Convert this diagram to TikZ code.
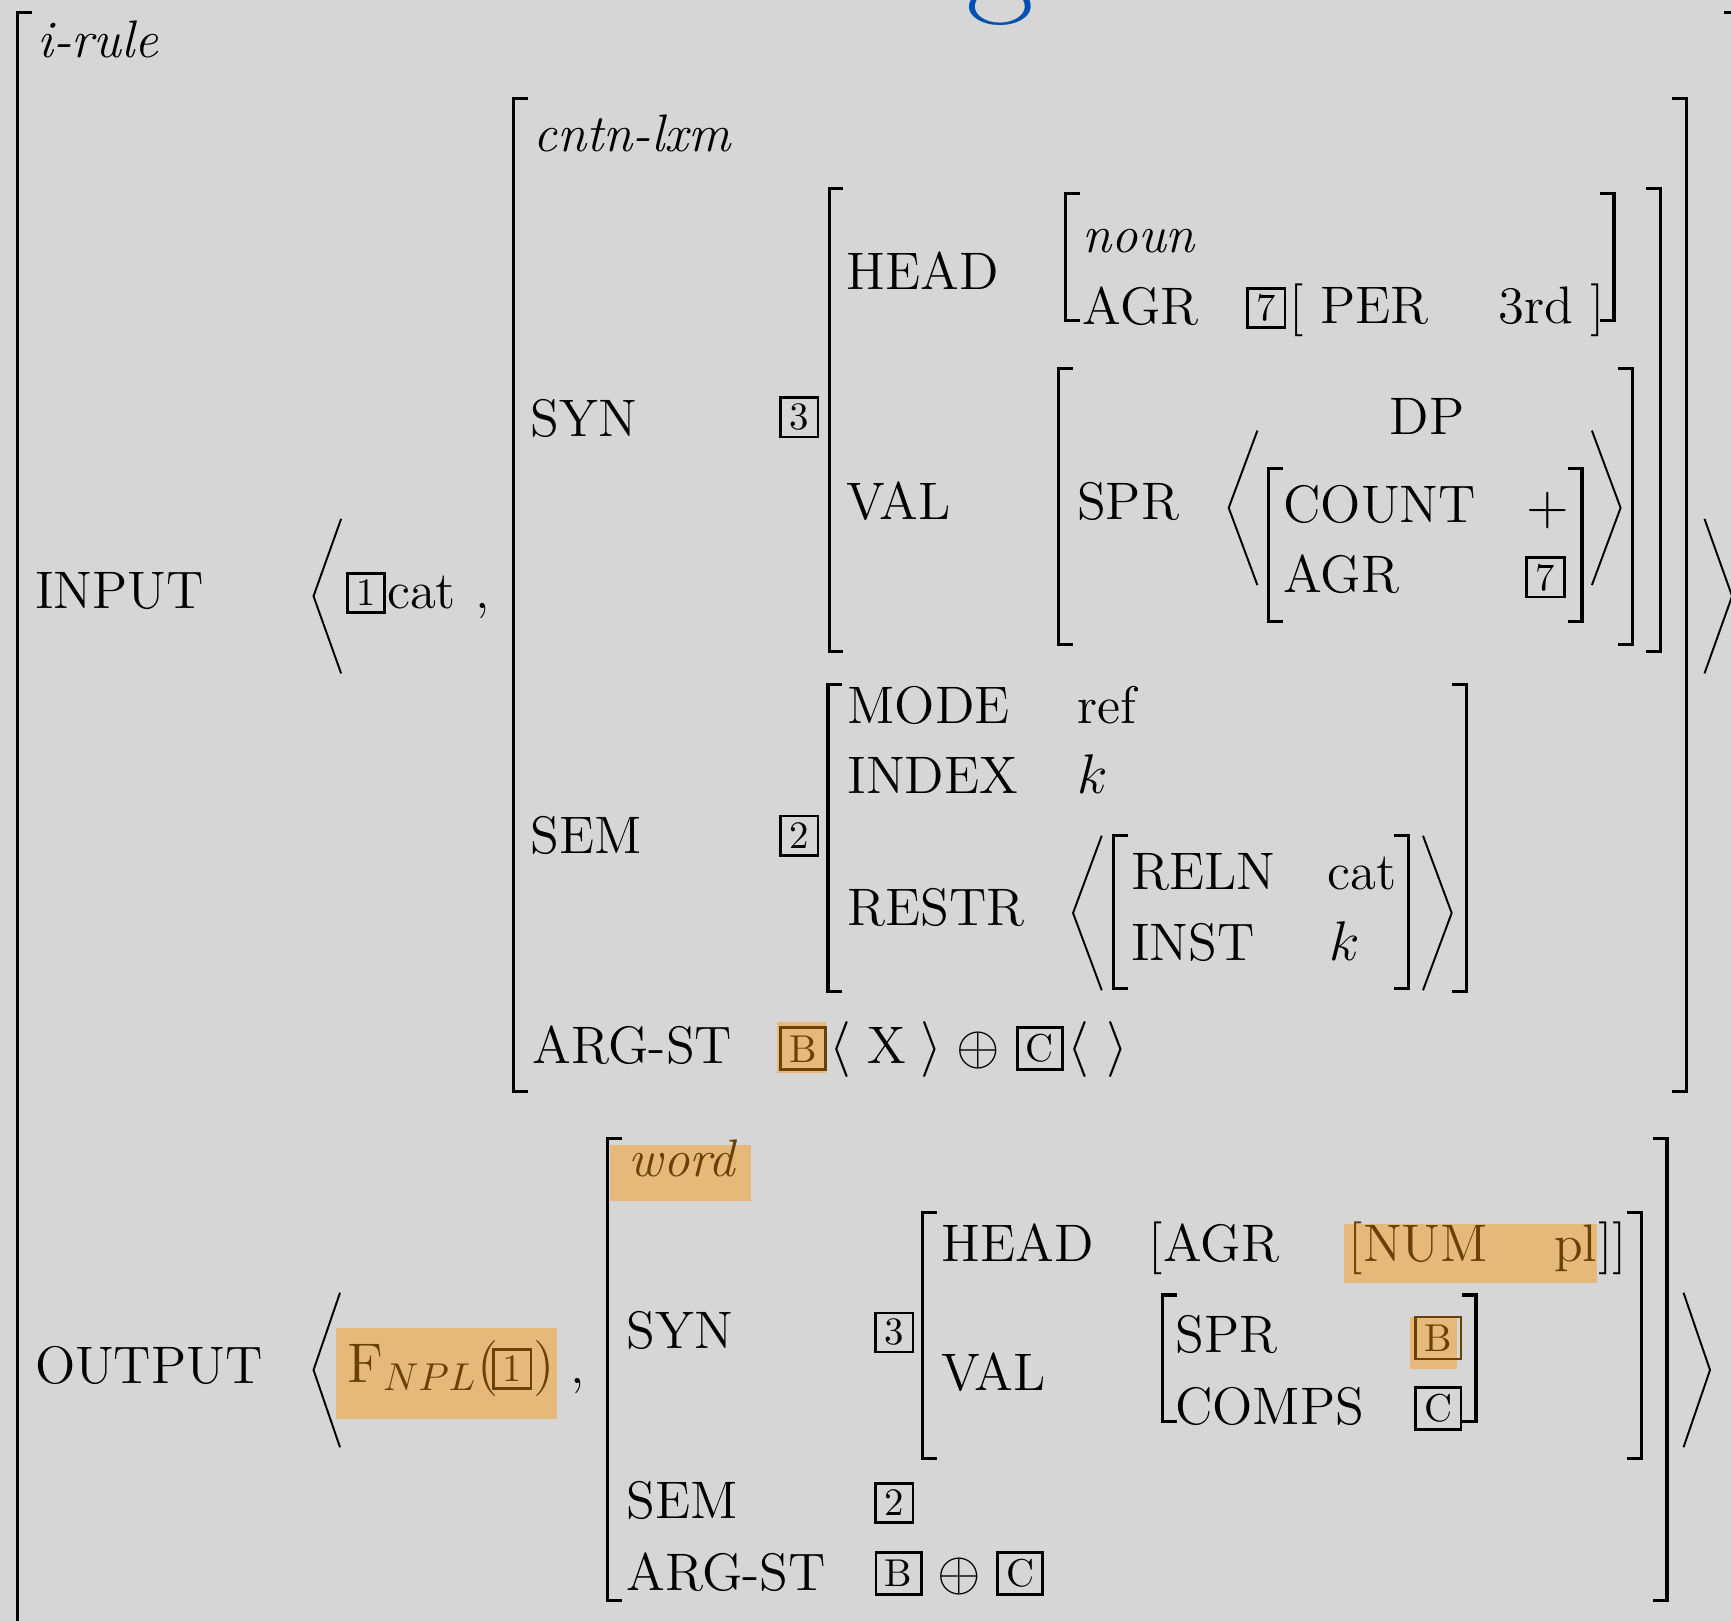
\documentclass[tikz,border=0pt]{standalone}
\usepackage{xcolor}
\usepackage{amsmath}
\usepackage{tikz}

\definecolor{slidebg}{RGB}{214,214,214}
\definecolor{hilite}{RGB}{230,185,122}
\definecolor{hltext}{RGB}{105,65,8}
\definecolor{titleblue}{RGB}{0,80,180}

% #1 left x, #2 right x, #3 top y, #4 bottom y
\newcommand{\avmbrk}[4]{%
  \draw[brk] (#1+13,#3) -- (#1,#3) -- (#1,#4) -- (#1+13,#4);
  \draw[brk] (#2-13,#3) -- (#2,#3) -- (#2,#4) -- (#2-13,#4);}
% #1 left tip x, #2 right tip x, #3 top y, #4 bottom y, #5 width
\newcommand{\avmangles}[5]{%
  \draw[ang] (#1+#5,#3) -- (#1,{(#3+#4)/2}) -- (#1+#5,#4);
  \draw[ang] (#2-#5,#3) -- (#2,{(#3+#4)/2}) -- (#2-#5,#4);}

\begin{document}
\begin{tikzpicture}[
  x=0.01cm, y=-0.01cm,
  font=\fontsize{13.6}{16}\selectfont,
  lbl/.style={anchor=base west, inner sep=0pt},
  hlbl/.style={lbl, text=hltext},
  tag/.style={draw, line width=0.7pt, inner sep=0pt, minimum width=0.34cm,
              minimum height=0.355cm, font=\fontsize{10}{10}\selectfont},
  ltag/.style={tag, minimum width=0.41cm, minimum height=0.38cm},
  htag/.style={ltag, draw=hltext, text=hltext},
  hl/.style={fill=hilite},
  brk/.style={line width=0.8pt},
  ang/.style={line width=0.5pt}
]
  \useasboundingbox (0,0) rectangle (1568,1468);
  \clip (0,0) rectangle (1568,1468);
  \fill[slidebg] (0,0) rectangle (1568,1468);
  \node[anchor=base, inner sep=0pt, text=titleblue, font=\fontsize{38}{38}\selectfont] (title) at (906,-4) {g};

  \fill[hl] (704,926) rectangle (748,972);
  \fill[hl] (304,1203) rectangle (505,1285);
  \fill[hl] (553,1037) rectangle (680,1088);
  \fill[hl] (1217,1109) rectangle (1447,1162);
  \fill[hl] (1277,1193) rectangle (1320,1240);

  % outer i-rule matrix
  \draw[brk] (29,11) -- (16,11) -- (16,1490);
  \draw[brk] (1562,11) -- (1575,11) -- (1575,1490);
  \node[lbl] (irule) at (33,52) {\itshape i-rule};

  % INPUT
  \node[lbl] (input) at (31,551) {INPUT};
  \avmangles{284}{1569}{470}{610}{25}
  \node[tag] (t1in) at (331.5,537) {1};
  \node[lbl] (cat) at (350,551) {cat};
  \node[lbl] (comma1) at (430,551) {,};

  \avmbrk{465}{1528}{89}{989}
  \node[lbl] (cntn) at (483,137) {\itshape cntn-lxm};

  \node[lbl] (syn) at (480,395) {SYN};
  \node[tag] (t3in) at (724,378) {3};
  \avmbrk{751}{1504}{171}{590}
  \node[lbl] (head) at (766,262) {HEAD};
  \avmbrk{965}{1462}{175}{290}
  \node[lbl] (noun) at (980,229) {\itshape noun};
  \node[lbl] (agr) at (980,294) {AGR};
  \node[tag] (t7in) at (1147,279) {7};
  \node[lbl] (per) at (1167,293) {[ PER};
  \node[lbl] (third) at (1357,293) {3rd ]};

  \node[lbl] (val) at (766,471) {VAL};
  \avmbrk{959}{1479}{334}{584}
  \node[lbl] (spr) at (975,471) {SPR};
  \avmangles{1113}{1468}{390}{530}{26}
  \node[lbl] (dp) at (1258,394) {DP};
  \avmbrk{1149}{1433}{424}{563}
  \node[lbl] (count) at (1162,473) {COUNT};
  \node[inner sep=0pt] (plus) at (1402,462) {$+$};
  \node[lbl] (agrdp) at (1162,537) {AGR};
  \node[tag] (t7dp) at (1400,523) {7};

  \node[lbl] (sem) at (480,773) {SEM};
  \node[tag] (t2in) at (724,757) {2};
  \avmbrk{750}{1328}{620}{898}
  \node[lbl] (mode) at (767,655) {MODE};
  \node[lbl] (ref) at (975,655) {ref};
  \node[lbl] (index) at (767,719) {INDEX};
  \node[lbl] (kindex) at (975,719) {$k$};
  \node[lbl] (restr) at (767,838) {RESTR};
  \avmangles{972}{1315}{757}{897}{26}
  \avmbrk{1009}{1276}{757}{895}
  \node[lbl] (reln) at (1024,806) {RELN};
  \node[lbl] (catreln) at (1202,806) {cat};
  \node[lbl] (inst) at (1024,870) {INST};
  \node[lbl] (kinst) at (1204,870) {$k$};

  \node[lbl] (argst) at (482,963) {ARG-ST};
  \node[htag] (tBin) at (727.5,950) {B};
  \node[lbl] (lx) at (751,963) {$\langle$};
  \node[lbl] (x) at (785,963) {X};
  \node[lbl] (rx) at (833,963) {$\rangle$};
  \node[inner sep=0pt] (oplusin) at (886,951.5) {$\oplus$};
  \node[ltag] (tCin) at (942,949.5) {C};
  \node[lbl] (elist) at (966,963) {$\langle$ $\rangle$};

  % OUTPUT
  \node[lbl] (output) at (31,1253) {OUTPUT};
  \avmangles{284}{1549}{1171}{1311}{24}
  \node[hlbl] (fnpl) at (314,1252) {$\mathrm{F}_{NPL}$};
  \node[hlbl] (lpar) at (432,1252) {$($};
  \node[tag, draw=hltext, text=hltext] (t1out) at (464,1240) {1};
  \node[hlbl] (rpar) at (483,1252) {$)$};
  \node[lbl] (comma2) at (516,1253) {,};

  \avmbrk{550}{1510}{1031}{1450}
  \node[hlbl] (word) at (569,1066) {\itshape word};

  \node[lbl] (synout) at (567,1221.5) {SYN};
  \node[tag] (t3out) at (810,1207) {3};
  \avmbrk{836}{1487}{1098}{1321}
  \node[lbl] (headout) at (852,1142.5) {HEAD};
  \node[lbl] (agrout) at (1040,1142.5) {[AGR};
  \node[hlbl] (num) at (1221,1142.5) {[NUM};
  \node[hlbl] (pl) at (1407,1142.5) {pl};
  \node[lbl] (rbrs) at (1447,1142.5) {]]};
  \node[lbl] (valout) at (852,1259.5) {VAL};
  \avmbrk{1053}{1337}{1173}{1288}
  \node[lbl] (sprout) at (1064,1225.5) {SPR};
  \node[htag] (tBspr) at (1303,1212) {B};
  \node[lbl] (comps) at (1064,1290) {COMPS};
  \node[ltag] (tCcomps) at (1303,1276) {C};

  \node[lbl] (semout) at (567,1375.6) {SEM};
  \node[tag] (t2out) at (810,1361.5) {2};
  \node[lbl] (argstout) at (567,1440.6) {ARG-ST};
  \node[ltag] (tBout) at (814,1425) {B};
  \node[inner sep=0pt] (oplusout) at (869,1428) {$\oplus$};
  \node[ltag] (tCout) at (924,1425) {C};
\end{tikzpicture}
\end{document}
